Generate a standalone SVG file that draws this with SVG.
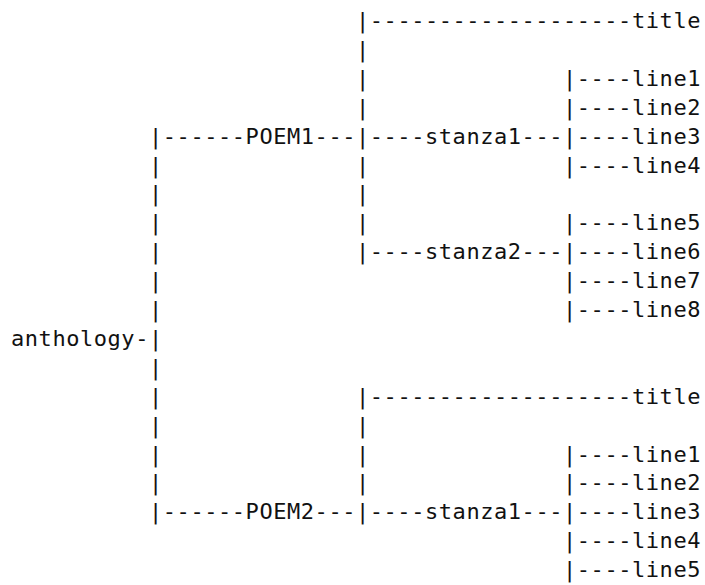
<svg xmlns="http://www.w3.org/2000/svg" width="705" height="585" viewBox="0 0 705 585">
<style>
text { font-family: "DejaVu Sans Mono", "Liberation Mono", monospace; font-size: 22px; letter-spacing: 0.55px; fill: #111; white-space: pre; }
</style>
<rect width="705" height="585" fill="#fff"/>
<g id="connectors">
<text x="356" y="28">|-------------------</text>
<text x="356" y="56.9">|</text>
<text x="356" y="85.8">|</text><text x="563" y="85.8">|----</text>
<text x="356" y="114.7">|</text><text x="563" y="114.7">|----</text>
<text x="149" y="143.6">|------</text><text x="314.6" y="143.6">---|----</text><text x="521.6" y="143.6">---|----</text>
<text x="149" y="172.5">|</text><text x="356" y="172.5">|</text><text x="563" y="172.5">|----</text>
<text x="149" y="201.4">|</text><text x="356" y="201.4">|</text>
<text x="149" y="230.3">|</text><text x="356" y="230.3">|</text><text x="563" y="230.3">|----</text>
<text x="149" y="259.2">|</text><text x="356" y="259.2">|----</text><text x="521.6" y="259.2">---|----</text>
<text x="149" y="288.1">|</text><text x="563" y="288.1">|----</text>
<text x="149" y="317">|</text><text x="563" y="317">|----</text>
<text x="135.2" y="345.9">-|</text>
<text x="149" y="374.8">|</text>
<text x="149" y="403.7">|</text><text x="356" y="403.7">|-------------------</text>
<text x="149" y="432.6">|</text><text x="356" y="432.6">|</text>
<text x="149" y="461.5">|</text><text x="356" y="461.5">|</text><text x="563" y="461.5">|----</text>
<text x="149" y="490.4">|</text><text x="356" y="490.4">|</text><text x="563" y="490.4">|----</text>
<text x="149" y="519.3">|------</text><text x="314.6" y="519.3">---|----</text><text x="521.6" y="519.3">---|----</text>
<text x="563" y="548.2">|----</text>
<text x="563" y="577.1">|----</text>
</g>
<g id="anthology"><text x="11" y="345.9">anthology</text></g>
<g id="poem1"><text x="245.6" y="143.6">POEM1</text></g>
<g id="poem1-title"><text x="632" y="28">title</text></g>
<g id="poem1-stanza1"><text x="425" y="143.6">stanza1</text></g>
<g id="poem1-s1-line1"><text x="632" y="85.8">line1</text></g>
<g id="poem1-s1-line2"><text x="632" y="114.7">line2</text></g>
<g id="poem1-s1-line3"><text x="632" y="143.6">line3</text></g>
<g id="poem1-s1-line4"><text x="632" y="172.5">line4</text></g>
<g id="poem1-stanza2"><text x="425" y="259.2">stanza2</text></g>
<g id="poem1-s2-line5"><text x="632" y="230.3">line5</text></g>
<g id="poem1-s2-line6"><text x="632" y="259.2">line6</text></g>
<g id="poem1-s2-line7"><text x="632" y="288.1">line7</text></g>
<g id="poem1-s2-line8"><text x="632" y="317">line8</text></g>
<g id="poem2"><text x="245.6" y="519.3">POEM2</text></g>
<g id="poem2-title"><text x="632" y="403.7">title</text></g>
<g id="poem2-stanza1"><text x="425" y="519.3">stanza1</text></g>
<g id="poem2-s1-line1"><text x="632" y="461.5">line1</text></g>
<g id="poem2-s1-line2"><text x="632" y="490.4">line2</text></g>
<g id="poem2-s1-line3"><text x="632" y="519.3">line3</text></g>
<g id="poem2-s1-line4"><text x="632" y="548.2">line4</text></g>
<g id="poem2-s1-line5"><text x="632" y="577.1">line5</text></g>
</svg>
